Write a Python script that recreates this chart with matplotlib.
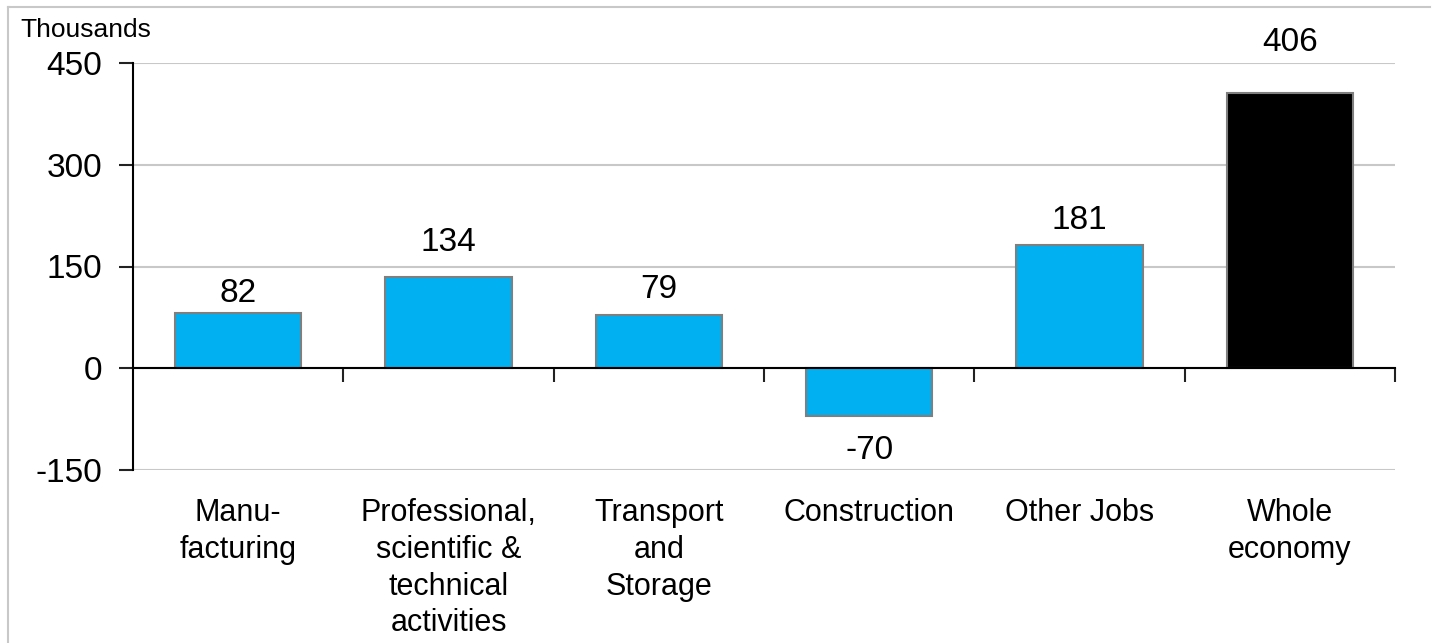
import matplotlib
matplotlib.use("Agg")
from matplotlib import pyplot as plt
from matplotlib.lines import Line2D

categories = ["Manu-\nfacturing", "Professional,\nscientific &\ntechnical\nactivities",
              "Transport\nand\nStorage", "Construction", "Other Jobs", "Whole\neconomy"]
values = [82, 134, 79, -70, 181, 406]
colors = ["#00B0F0"] * 5 + ["#000000"]
yticks = [-150, 0, 150, 300, 450]
# label distance from bar end, in points (labels in the original are placed by hand)
label_offsets = [14, 25, 18, -25, 18, 36]

plt.rcParams['font.family'] = ['Liberation Sans', 'DejaVu Sans']

fig = plt.figure(figsize=(14.33, 6.43), dpi=100)
ax = fig.add_axes([133 / 1433, 1 - 470 / 643, (1395 - 133) / 1433, (470 - 63) / 643])

x = list(range(len(values)))
ax.bar(x, values, width=0.6, color=colors, edgecolor="#7f7f7f", linewidth=1.5, zorder=3)

for xi, v, off in zip(x, values, label_offsets):
    ax.annotate(str(v), (xi, v), xytext=(0, off), textcoords="offset points",
                ha="center", va="center", fontsize=24)

ax.set_xlim(-0.5, len(values) - 0.5)
ax.set_ylim(-150, 450)
ax.set_yticks(yticks)
ax.set_yticklabels([str(t) for t in yticks], fontsize=24)
ax.tick_params(axis="y", direction="out", length=10, width=1.5, pad=12, color="#222222")
ax.grid(axis="y", color="#c8c8c8", linewidth=1.5, zorder=0)

# x axis sits on zero, ticks at category boundaries
ax.spines["bottom"].set_position(("data", 0))
ax.spines["bottom"].set_linewidth(1.5)
ax.spines["bottom"].set_zorder(4)
ax.spines["left"].set_linewidth(1.5)
ax.spines["top"].set_visible(False)
ax.spines["right"].set_visible(False)
ax.set_xticks([i + 0.5 for i in x])
ax.set_xticklabels([])
ax.tick_params(axis="x", direction="out", length=10, width=1.5, color="#222222")

for xi, lab in zip(x, categories):
    ax.annotate(lab, (xi, -150), xytext=(0, -20), textcoords="offset points",
                ha="center", va="top", fontsize=22, linespacing=1.3)

fig.text(20 / 1433, 1 - 30 / 643, "Thousands", fontsize=19, va="center", ha="left")

# thin frame lines round the chart
fig.add_artist(Line2D([8 / 1433, 1430 / 1433], [1 - 7 / 643, 1 - 7 / 643], color="#c8c8c8", linewidth=1.5))
fig.add_artist(Line2D([8 / 1433, 8 / 1433], [0, 1 - 7 / 643], color="#c8c8c8", linewidth=1.5))

plt.savefig("out.png", dpi=100)
